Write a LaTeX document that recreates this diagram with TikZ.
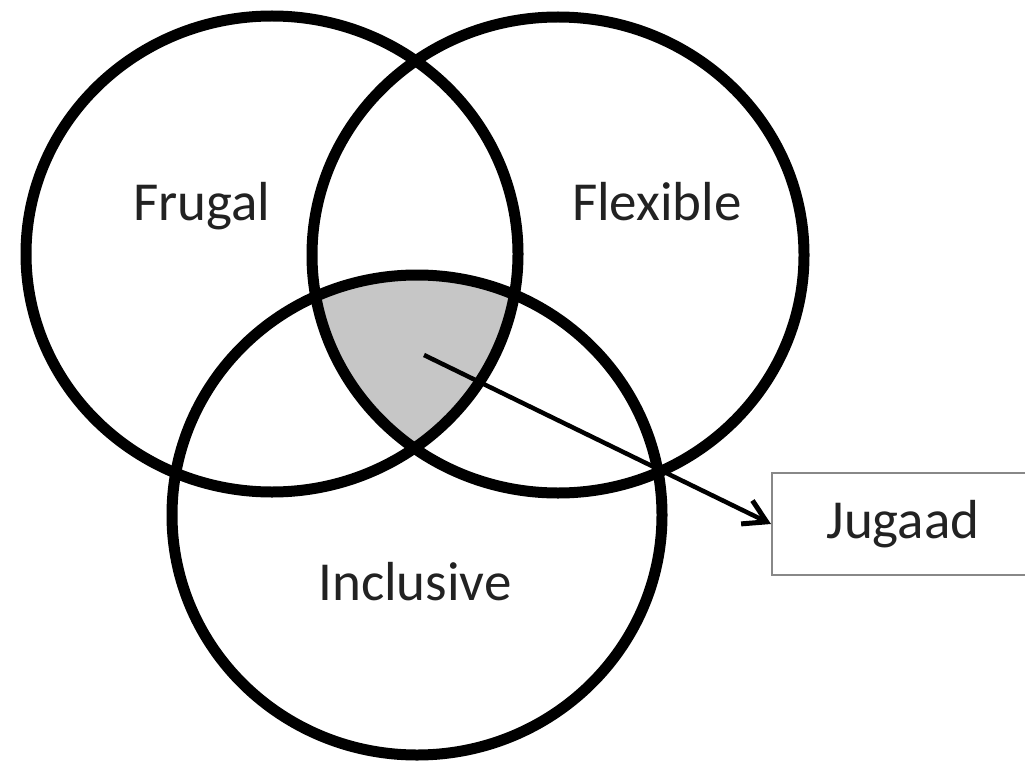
\documentclass[tikz,border=0pt]{standalone}
\usepackage{fontspec}
\setmainfont{Carlito}
\usetikzlibrary{arrows.meta}
\definecolor{vennshade}{HTML}{C6C6C6}
\definecolor{txt}{HTML}{222222}
\definecolor{boxline}{HTML}{888888}
\begin{document}
\begin{tikzpicture}[x=1pt,y=-1pt,
  ring/.style={draw=black,line width=11pt},
  lbl/.style={font=\fontsize{55}{66}\selectfont,text=txt,anchor=base,inner sep=0pt},
  jbox/.style={draw=boxline,line width=2pt,minimum width=262pt,minimum height=102pt,
    text height=28pt,text depth=0pt,inner sep=0pt,font=\fontsize{55}{66}\selectfont,text=txt},
  conn/.style={line width=4.5pt,-{Straight Barb[length=22pt,width=26pt,line width=5pt]}}]
\useasboundingbox (0,0) rectangle (1025,765);
\fill[white] (0,0) rectangle (1025,765);
% shaded triple intersection
\begin{scope}
  \clip (272,254) ellipse [x radius=246, y radius=238];
  \clip (558,255) ellipse [x radius=246, y radius=238];
  \fill[fill=vennshade] (417,515) ellipse [x radius=245, y radius=240];
\end{scope}
% circles
\draw[ring] (272,254) ellipse [x radius=246, y radius=238];
\draw[ring] (558,255) ellipse [x radius=246, y radius=238];
\draw[ring] (417,515) ellipse [x radius=245, y radius=240];
% labels
\node[lbl] (frugal) at (202,220) {Frugal};
\node[lbl] (flexible) at (657,220) {Flexible};
\node[lbl] (inclusive) at (415,600) {Inclusive};
% Jugaad box and arrow
\node[jbox] (jugaad) at (903,524) {Jugaad};
\coordinate (start) at (424,355);
\draw[conn] (start) -- (jugaad.west);
\end{tikzpicture}
\end{document}
